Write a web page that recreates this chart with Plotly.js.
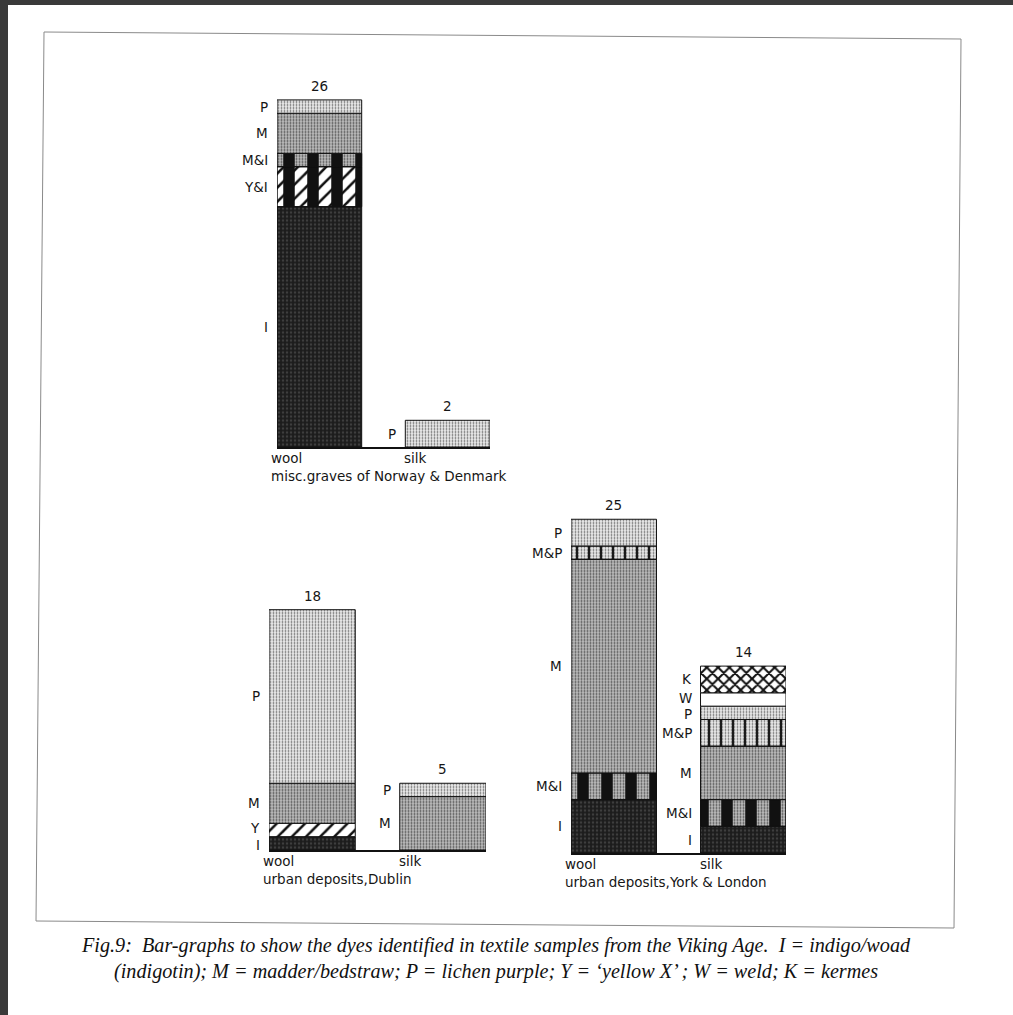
<!DOCTYPE html>
<html><head><meta charset="utf-8">
<script src="https://cdn.plot.ly/plotly-3.0.1.min.js"></script>
<style>html,body{margin:0;padding:0;background:#fff;overflow:hidden}</style>
</head><body><div id="chart" style="width:1013px;height:1015px"></div>
<script>
// ---- data (segments listed bottom to top) ----
const columnNames = ['wool', 'silk'];
const groupTitles = ['misc.graves of Norway & Denmark', 'urban deposits,Dublin', 'urban deposits,York & London'];

const gravesWoolDyes = ['I', 'Y&I', 'M&I', 'M', 'P'];
const gravesWoolCounts = [18, 3, 1, 3, 1];
const gravesSilkDyes = ['P'];
const gravesSilkCounts = [2];

const dublinWoolDyes = ['I', 'Y', 'M', 'P'];
const dublinWoolCounts = [1, 1, 3, 13];
const dublinSilkDyes = ['M', 'P'];
const dublinSilkCounts = [4, 1];

const yorkWoolDyes = ['I', 'M&I', 'M', 'M&P', 'P'];
const yorkWoolCounts = [4, 2, 16, 1, 2];
const yorkSilkDyes = ['I', 'M&I', 'M', 'M&P', 'P', 'W', 'K'];
const yorkSilkCounts = [2, 2, 4, 2, 1, 1, 2];

const captionText = 'Fig.9:  Bar-graphs to show the dyes identified in textile samples from the Viking Age.  I = indigo/woad<br>(indigotin); M = madder/bedstraw; P = lichen purple; Y = \u2018yellow X\u2019 ; W = weld; K = kermes';

// ---- styles ----
const W = 1013, H = 1015;
const fx = p => p / W, fy = p => 1 - p / H;
const CLEAR = 'rgba(0,0,0,0)';
const stripesWide = {shape: '|', bg: CLEAR, fg: '#111', size: 24, solidity: 0.48};
const stripesThin = {shape: '|', bg: CLEAR, fg: '#111', size: 12, solidity: 0.16};
const dotsP = {shape: '.', bg: '#ececec', fg: '#6a6a6a', size: 3, solidity: 0.28};
const dotsM = {shape: '.', bg: '#bebebe', fg: '#505050', size: 3, solidity: 0.35};
const dyeLayers = {
  'I':   [{shape: '.', bg: '#1c1c1c', fg: '#3e3e3e', size: 4, solidity: 0.3}],
  'P':   [dotsP],
  'M':   [dotsM],
  'M&I': [dotsM, stripesWide],
  'Y&I': [{shape: '/', bg: '#fff', fg: '#111', size: 10, solidity: 0.25}, stripesWide],
  'Y':   [{shape: '/', bg: '#fff', fg: '#111', size: 10, solidity: 0.25}],
  'M&P': [dotsP, stripesThin],
  'W':   [{shape: '', bg: '#fff', fg: '#fff', size: 8, solidity: 0.3}],
  'K':   [{shape: 'x', bg: '#fff', fg: '#111', size: 8, solidity: 0.45}]
};

// subplot geometry (pixels)
const groups = [
  {left: 277, right: 490, base: 447, cols: [[gravesWoolDyes, gravesWoolCounts], [gravesSilkDyes, gravesSilkCounts]]},
  {left: 269, right: 486, base: 850, cols: [[dublinWoolDyes, dublinWoolCounts], [dublinSilkDyes, dublinSilkCounts]]},
  {left: 571, right: 786, base: 853, cols: [[yorkWoolDyes, yorkWoolCounts], [yorkSilkDyes, yorkSilkCounts]]}
];
const barW = 0.66, yMax = 30, pxPerUnit = 13.35, minLabelGap = 16.5;
const labelFont = {family: 'DejaVu Sans, Verdana, sans-serif', size: 13.5, color: '#161616'};

const traces = [], annotations = [];
const layout = {
  width: W, height: H, margin: {l: 0, r: 0, t: 0, b: 0},
  paper_bgcolor: '#fff', plot_bgcolor: 'rgba(0,0,0,0)',
  barmode: 'overlay', showlegend: false, hovermode: false
};

groups.forEach((g, gi) => {
  const sfx = gi === 0 ? '' : String(gi + 1);
  const xa = 'x' + sfx, ya = 'y' + sfx;
  layout['xaxis' + sfx] = {
    domain: [fx(g.left), fx(g.right)], range: [-barW / 2, 1 + barW / 2], anchor: ya,
    showline: true, linecolor: '#111', linewidth: 1.5, showgrid: false, zeroline: false,
    showticklabels: false, ticks: '', fixedrange: true
  };
  layout['yaxis' + sfx] = {
    domain: [fy(g.base), fy(g.base - yMax * pxPerUnit)], range: [0, yMax], anchor: xa,
    visible: false, showgrid: false, zeroline: false, fixedrange: true
  };
  g.cols.forEach(([dyes, counts], ci) => {
    let cum = 0;
    const mids = [];
    dyes.forEach((d, si) => {
      const v = counts[si];
      dyeLayers[d].forEach(st => {
        traces.push({
          type: 'bar', x: [ci], y: [v], base: [cum], width: barW, xaxis: xa, yaxis: ya,
          marker: {
            color: st.bg,
            line: {color: '#111', width: 1},
            pattern: {shape: st.shape, bgcolor: st.bg, fgcolor: st.fg, size: st.size, solidity: st.solidity, fillmode: 'replace'}
          },
          hoverinfo: 'skip'
        });
      });
      mids.push(cum + v / 2);
      cum += v;
    });
    // spread segment labels that would collide (pixel offsets)
    const pos = mids.map(m => m * pxPerUnit);
    for (let it = 0; it < 20; it++) {
      for (let i = 1; i < pos.length; i++) {
        const gap = pos[i] - pos[i - 1];
        if (gap < minLabelGap) {
          const d = (minLabelGap - gap) / 2;
          pos[i] += d; pos[i - 1] -= d;
        }
      }
    }
    dyes.forEach((d, si) => {
      annotations.push({
        xref: xa, yref: ya, x: ci - barW / 2, y: mids[si], xanchor: 'right', yanchor: 'middle',
        xshift: -8, yshift: pos[si] - mids[si] * pxPerUnit,
        text: d.replace('&', '&amp;'), showarrow: false, font: labelFont, borderpad: 0
      });
    });
    // total above bar
    annotations.push({
      xref: xa, yref: ya, x: ci, y: cum, xanchor: 'center', yanchor: 'bottom', yshift: 4,
      text: String(cum), showarrow: false, font: labelFont
    });
    // column label under baseline
    annotations.push({
      xref: xa, yref: ya, x: ci - barW / 2, y: 0, xanchor: 'left', yanchor: 'top', xshift: ci === 0 ? -8 : -3, yshift: -1,
      text: columnNames[ci], showarrow: false, font: labelFont
    });
  });
  annotations.push({
    xref: xa, yref: ya, x: -barW / 2, y: 0, xanchor: 'left', yanchor: 'top', xshift: -8, yshift: -19,
    text: groupTitles[gi].replace('&', '&amp;'), showarrow: false, font: labelFont
  });
});

annotations.push({
  xref: 'paper', yref: 'paper', x: fx(496), y: fy(932), xanchor: 'center', yanchor: 'top',
  text: captionText, showarrow: false, align: 'center',
  font: {family: 'Liberation Serif, Times New Roman, serif', size: 20.2, color: '#111', style: 'italic'}
});
layout.annotations = annotations;

layout.shapes = [
  {type: 'rect', xref: 'paper', yref: 'paper', x0: 0, x1: 1, y0: fy(5), y1: 1, fillcolor: '#3a3a3a', line: {width: 0}, layer: 'above'},
  {type: 'rect', xref: 'paper', yref: 'paper', x0: 0, x1: fx(8), y0: 0, y1: 1, fillcolor: '#3a3a3a', line: {width: 0}, layer: 'above'},
  {type: 'path', xref: 'paper', yref: 'paper',
   path: `M ${fx(44)} ${fy(32)} L ${fx(961)} ${fy(39)} L ${fx(954)} ${fy(928)} L ${fx(36)} ${fy(921)} Z`,
   line: {color: '#8a8a8a', width: 1}, layer: 'below'}
];

Plotly.newPlot('chart', traces, layout, {staticPlot: true, displayModeBar: false});
</script></body></html>
